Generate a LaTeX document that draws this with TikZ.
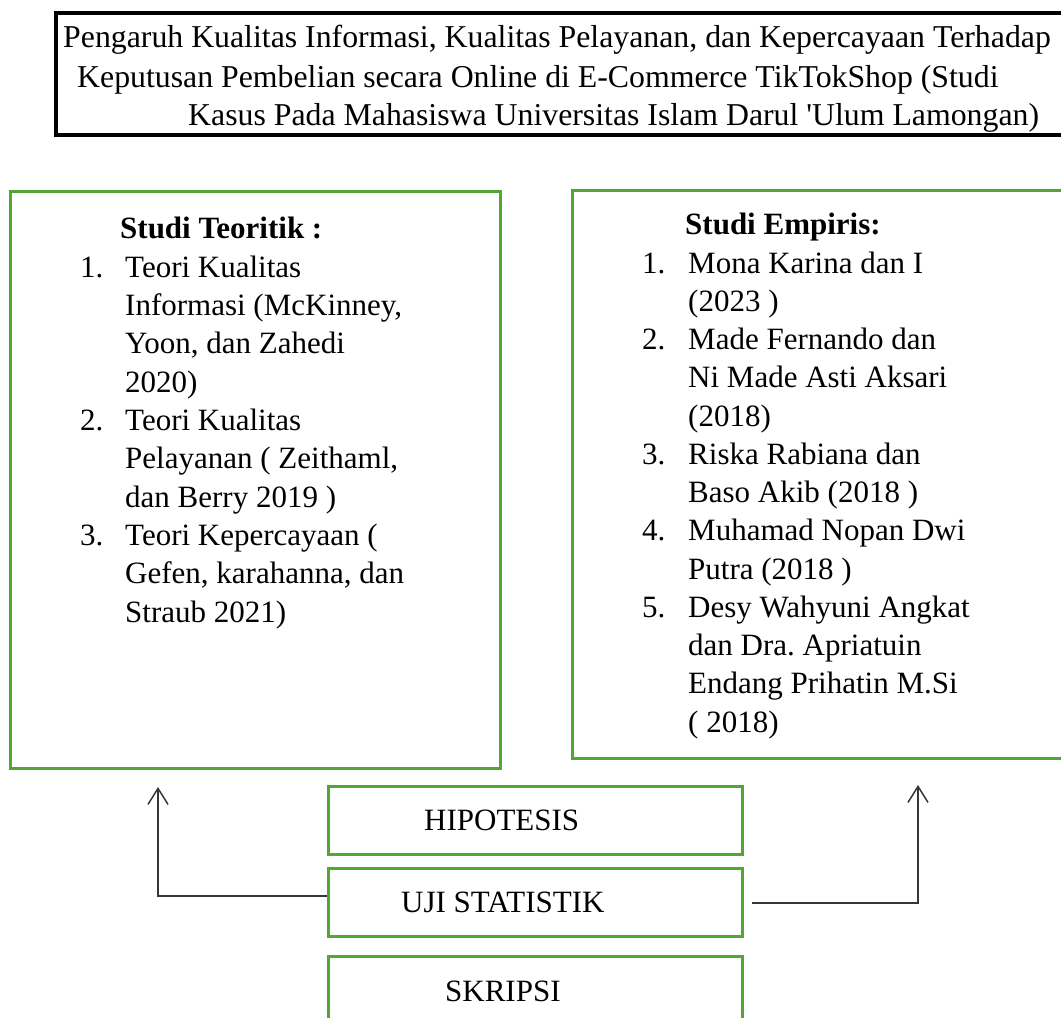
\documentclass[tikz,border=0pt]{standalone}
\usepackage{fontspec}
\setmainfont{Liberation Serif}
\usetikzlibrary{arrows.meta}
\definecolor{boxgreen}{RGB}{80,167,50}
\definecolor{conngray}{RGB}{55,55,55}
\frenchspacing
\begin{document}
\begin{tikzpicture}[x=1pt,y=-1pt,
  gbox/.style={draw=boxgreen,line width=3pt,rectangle,inner sep=0pt},
  tbox/.style={draw=black,line width=4pt,rectangle,inner sep=0pt},
  txt/.style={anchor=base west,inner sep=0pt,font=\fontsize{31}{37}\selectfont},
  ttxt/.style={txt,font=\fontsize{31.8}{38}\selectfont},
  btxt/.style={txt,font=\fontsize{31}{37}\selectfont\bfseries},
  conn/.style={draw=conngray,line width=1.5pt,-{Straight Barb[length=16pt,width=20pt]}}]
\useasboundingbox (0,0) rectangle (1061,1018);
% title
\node[tbox,minimum width=1014pt,minimum height=122pt] (title) at (563,74) {};
\node[ttxt] (t1) at (63,47) {Pengaruh Kualitas Informasi, Kualitas Pelayanan, dan Kepercayaan Terhadap};
\node[ttxt] (t2) at (77,87) {Keputusan Pembelian secara Online di E-Commerce TikTokShop (Studi};
\node[ttxt] (t3) at (188,125) {Kasus Pada Mahasiswa Universitas Islam Darul \textquotesingle Ulum Lamongan)};
% left box
\node[gbox,minimum width=490pt,minimum height=577pt] (teo) at (255,479.5) {};
\node[btxt] (teoh) at (120,238) {Studi Teoritik :};
\node[txt] (n1) at (80,277) {1.};
\node[txt] (l1) at (125,277) {Teori Kualitas};
\node[txt] (l2) at (125,315) {Informasi (McKinney,};
\node[txt] (l3) at (125,353) {Yoon, dan Zahedi};
\node[txt] (l4) at (125,392) {2020)};
\node[txt] (n2) at (80,430) {2.};
\node[txt] (l5) at (125,430) {Teori Kualitas};
\node[txt] (l6) at (125,468) {Pelayanan ( Zeithaml,};
\node[txt] (l7) at (125,507) {dan Berry 2019 )};
\node[txt] (n3) at (80,545) {3.};
\node[txt] (l8) at (125,545) {Teori Kepercayaan (};
\node[txt] (l9) at (125,583) {Gefen, karahanna, dan};
\node[txt] (l10) at (125,622) {Straub 2021)};
% right box (its right side runs past the picture edge)
\node[gbox,minimum width=496pt,minimum height=568pt] (emp) at (820,474) {};
\node[btxt] (emph) at (685,234) {Studi Empiris:};
\node[txt] (m1) at (642,273) {1.};
\node[txt] (r1) at (688,273) {Mona Karina dan I};
\node[txt] (r2) at (688,311.25) {(2023 )};
\node[txt] (m2) at (642,349.5) {2.};
\node[txt] (r3) at (688,349.5) {Made Fernando dan};
\node[txt] (r4) at (688,387.75) {Ni Made Asti Aksari};
\node[txt] (r5) at (688,426) {(2018)};
\node[txt] (m3) at (642,464.25) {3.};
\node[txt] (r6) at (688,464.25) {Riska Rabiana dan};
\node[txt] (r7) at (688,502.5) {Baso Akib (2018 )};
\node[txt] (m4) at (642,540.75) {4.};
\node[txt] (r8) at (688,540.75) {Muhamad Nopan Dwi};
\node[txt] (r9) at (688,579) {Putra (2018 )};
\node[txt] (m5) at (642,617.25) {5.};
\node[txt] (r10) at (688,617.25) {Desy Wahyuni Angkat};
\node[txt] (r11) at (688,655.5) {dan Dra. Apriatuin};
\node[txt] (r12) at (688,693.75) {Endang Prihatin M.Si};
\node[txt] (r13) at (688,732) {( 2018)};
% bottom boxes
\node[gbox,minimum width=414pt,minimum height=68pt] (hip) at (535,820) {};
\node[txt] (hipt) at (424,830) {HIPOTESIS};
\node[gbox,minimum width=414pt,minimum height=68pt] (uji) at (535,902) {};
\node[txt] (ujit) at (401,912) {UJI STATISTIK};
\node[gbox,minimum width=414pt,minimum height=68pt] (skr) at (535,990) {};
\node[txt] (skrt) at (445,1001) {SKRIPSI};
% connectors
\coordinate (la) at (158,787);
\coordinate (ra) at (918,785);
\draw[conn] ([yshift=6pt]uji.west) -| (la);
\draw[conn] ([xshift=8pt,yshift=-1pt]uji.east) -| (ra);
\end{tikzpicture}
\end{document}
